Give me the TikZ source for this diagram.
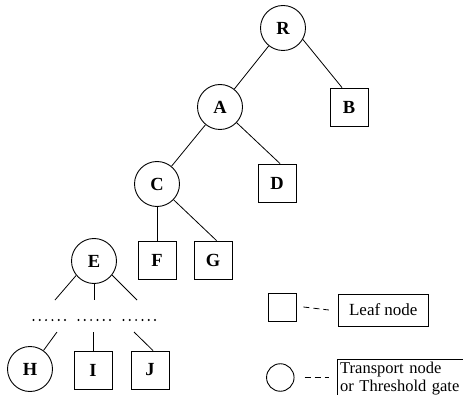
\documentclass[tikz,border=0pt]{standalone}
\usepackage{fontspec}
\setmainfont{Liberation Serif}
\usepackage{tikz}
\usetikzlibrary{positioning}

\begin{document}
\begin{tikzpicture}[x=1pt, y=1pt,
      gate/.style={draw, circle, minimum size=45pt, inner sep=0pt, line width=0.9pt,
                   font=\fontsize{18.5}{20}\selectfont\bfseries},
      leaf/.style={draw, rectangle, minimum size=38pt, inner sep=0pt, line width=0.9pt,
                   font=\fontsize{18.5}{20}\selectfont\bfseries},
      edge/.style={line width=0.8pt},
      legtxt/.style={draw, line width=0.8pt, font=\fontsize{17}{19}\selectfont},
      dashline/.style={line width=0.8pt, dash pattern=on 6pt off 4pt}
    ]
    \useasboundingbox (0,0) rectangle (463,394);
    \clip (0,0) rectangle (463,394);

    % tree
    \node[gate] (R) at (283,366) {R};
    \node[gate] (A) at (220,287) {A};
    \node[leaf] (B) at (349,287) {B};
    \node[gate] (C) at (157,210) {C};
    \node[leaf] (D) at (277,211) {D};
    \node[gate] (E) at (94,133) {E};
    \node[leaf] (F) at (157,134) {F};
    \node[leaf] (G) at (213,134) {G};
    \node[gate] (H) at (30,25) {H};
    \node[leaf] (I) at (93,24) {I};
    \node[leaf] (J) at (150,24) {J};

    \draw[edge] (R) -- (A);
    \draw[edge] (R.-30) -- ([xshift=-7pt]B.north);
    \draw[edge] (A) -- (C);
    \draw[edge] (A) -- ([xshift=3pt]D.north);
    \draw[edge] (C.south) -- (F.north);
    \draw[edge] (C) -- ([xshift=3.5pt]G.north);

    % open branches under E
    \coordinate (e1) at (55,94);
    \coordinate (e2) at (94,94);
    \coordinate (e3) at (137,94);
    \coordinate (h1) at (57,62);
    \coordinate (i1) at (93,62);
    \coordinate (j1) at (134,62);
    \draw[edge] (E.219) -- (e1);
    \draw[edge] (E.south) -- (e2);
    \draw[edge] (E.-38) -- (e3);
    \draw[edge] (h1) -- (H);
    \draw[edge] (i1) -- (I.north);
    \draw[edge] (j1) -- ([xshift=3pt]J.north);
    \foreach \gx in {33.5,78.5,123.5}
      \foreach \k in {0,...,5}
        \fill (\gx+6.3*\k,74) circle (1.1pt);

    % legend
    \node[leaf, minimum size=28pt] (legleaf) at (282,87) {};
    \node[legtxt, minimum width=90pt, minimum height=32pt] (leaftxt) at (383.3,84) {Leaf node};
    \draw[dashline] ([xshift=7pt]legleaf.east) -- ([xshift=-9pt]leaftxt.west);

    \node[gate, minimum size=27.5pt] (leggate) at (280.3,16.5) {};
    \node[legtxt, anchor=north west, font=\fontsize{16.5}{18}\selectfont,
          text width=140pt, align=left, inner sep=2.5pt, text depth=20pt] (gatetxt) at (337.3,35)
          {Transport node\\or Threshold gate};
    \draw[dashline] ([xshift=10pt]leggate.east) -- ([xshift=-8pt]gatetxt.west |- leggate.east);
\end{tikzpicture}
\end{document}
